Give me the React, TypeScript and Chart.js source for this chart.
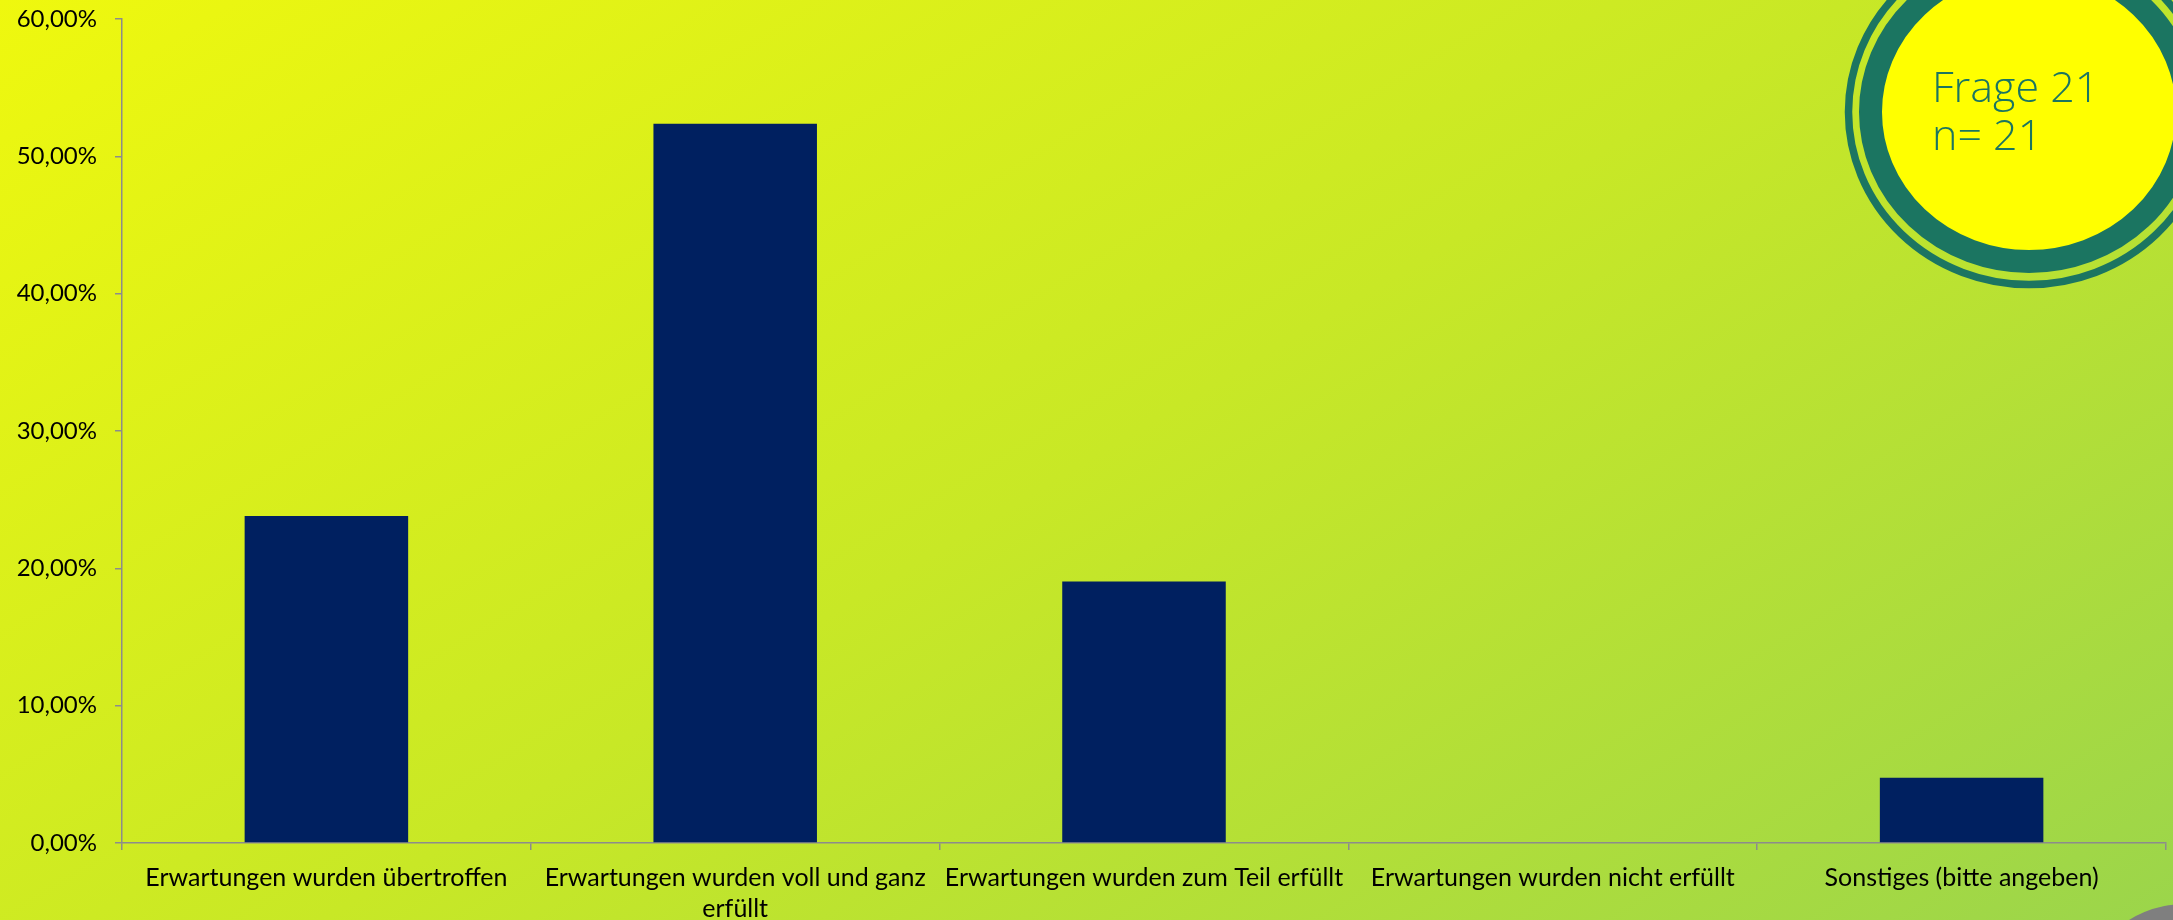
import React, { useEffect, useRef } from "react";
import { Chart, registerables } from "chart.js";

Chart.register(...registerables);

const categories: string[] = [
  "Erwartungen wurden übertroffen",
  "Erwartungen wurden voll und ganz erfüllt",
  "Erwartungen wurden zum Teil erfüllt",
  "Erwartungen wurden nicht erfüllt",
  "Sonstiges (bitte angeben)",
];
const shares: number[] = [23.81, 52.38, 19.05, 0, 4.76];
const yMin = 0;
const yMax = 60;
const yStep = 10;
const badgeLines: string[] = ["Frage 21", "n= 21"];

const FONT = "Lato, 'Open Sans', sans-serif";

function formatPct(v: number): string {
  return v.toFixed(2).replace(".", ",") + "%";
}

function wrapLabel(s: string): string | string[] {
  if (s.length <= 36) return s;
  const cut = s.lastIndexOf(" ", 33);
  return [s.slice(0, cut), s.slice(cut + 1)];
}

const badgePlugin = {
  id: "badge",
  afterDraw(chart: any) {
    const ctx = chart.ctx as CanvasRenderingContext2D;
    ctx.save();
    const cx = 2029;
    const cy = 112;
    const green = "#1b7561";
    ctx.beginPath();
    ctx.ellipse(cx, cy, 149, 140, 0, 0, Math.PI * 2);
    ctx.fillStyle = "#ffff00";
    ctx.fill();
    ctx.beginPath();
    ctx.ellipse(cx, cy, 158.5, 149.5, 0, 0, Math.PI * 2);
    ctx.lineWidth = 23;
    ctx.strokeStyle = green;
    ctx.stroke();
    ctx.beginPath();
    ctx.ellipse(cx, cy, 180.5, 172.5, 0, 0, Math.PI * 2);
    ctx.lineWidth = 7.5;
    ctx.stroke();
    ctx.fillStyle = green;
    ctx.textAlign = "left";
    ctx.textBaseline = "alphabetic";
    ctx.font = `300 43px 'Open Sans', sans-serif`;
    ctx.fillText(badgeLines[0], 1932, 102);
    ctx.fillText(badgeLines[1], 1932, 150);
    ctx.beginPath();
    ctx.arc(2185, 1010, 106, 0, Math.PI * 2);
    ctx.fillStyle = "#7f7f7f";
    ctx.fill();
    ctx.restore();
  },
};

export default function App() {
  const canvasRef = useRef<HTMLCanvasElement | null>(null);

  useEffect(() => {
    const canvas = canvasRef.current;
    if (!canvas) return;
    const axisColor = "#8c8c8c";
    const chart = new Chart(canvas, {
      type: "bar",
      data: {
        labels: categories,
        datasets: [
          {
            data: shares,
            backgroundColor: "#002060",
            borderWidth: 0,
            barPercentage: 1,
            categoryPercentage: 0.4,
          },
        ],
      },
      options: {
        animation: false,
        responsive: false,
        layout: { padding: { top: 19, right: 7, left: 0, bottom: 0 } },
        plugins: {
          legend: { display: false },
          tooltip: { enabled: false },
        },
        scales: {
          x: {
            grid: {
              display: true,
              drawOnChartArea: false,
              drawTicks: true,
              tickLength: 7,
              color: axisColor,
              lineWidth: 1.5,
              offset: true,
            },
            border: { display: true, color: axisColor, width: 1.5 },
            ticks: {
              color: "#000000",
              font: { family: FONT, size: 25, lineHeight: 1.22 },
              padding: 13,
              maxRotation: 0,
              minRotation: 0,
              autoSkip: false,
              callback: (_v: any, i: number) => wrapLabel(categories[i]),
            },
            afterFit: (s: any) => {
              s.height = 77;
              s.paddingLeft = 0;
              s.paddingRight = 0;
            },
          },
          y: {
            min: yMin,
            max: yMax,
            grid: {
              display: true,
              drawOnChartArea: false,
              drawTicks: true,
              tickLength: 7,
              color: axisColor,
              lineWidth: 1.5,
            },
            border: { display: true, color: axisColor, width: 1.5 },
            ticks: {
              stepSize: yStep,
              color: "#000000",
              font: { family: FONT, size: 24 },
              padding: 18,
              callback: (v: any) => formatPct(Number(v)),
            },
            afterFit: (s: any) => {
              s.width = 122;
              s.paddingTop = 0;
              s.paddingBottom = 0;
            },
          },
        },
      },
      plugins: [badgePlugin],
    });
    return () => chart.destroy();
  }, []);

  return (
    <div
      style={{
        position: "fixed",
        left: 0,
        top: 0,
        width: 2173,
        height: 920,
        overflow: "hidden",
        background: "linear-gradient(149deg, #eff80e 0%, #c8e826 50%, #9bd54b 100%)",
      }}
    >
      <canvas
        ref={canvasRef}
        width={2173}
        height={920}
        style={{ display: "block", width: 2173, height: 920 }}
      />
    </div>
  );
}
